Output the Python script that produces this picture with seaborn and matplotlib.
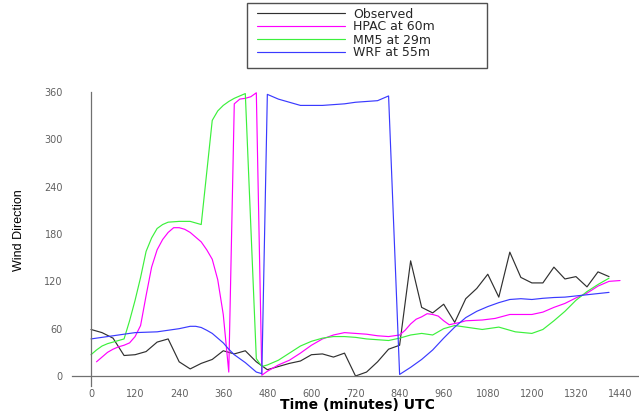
import matplotlib
matplotlib.use("Agg")
import matplotlib.pyplot as plt
from matplotlib.patches import Rectangle
from matplotlib.ticker import MultipleLocator
import pandas as pd
import seaborn as sns

# ---- data -------------------------------------------------------------
obs_time = [0, 30, 60, 90, 120, 150, 180, 210, 240, 270, 300, 330, 360, 390,
            420, 450, 480, 510, 540, 570, 600, 630, 660, 690, 720, 750, 780,
            810, 840, 870, 900, 930, 960, 990, 1020, 1050, 1080, 1110, 1140,
            1170, 1200, 1230, 1260, 1290, 1320, 1350, 1380, 1410]
obs_dir = [59, 55, 48, 26, 27, 31, 43, 47, 18, 9, 16, 21, 32, 28,
           32, 18, 8, 12, 16, 19, 27, 28, 24, 29, 0, 5, 18,
           34, 39, 146, 87, 80, 91, 68, 98, 111, 129, 100, 157,
           125, 118, 118, 138, 123, 126, 113, 132, 126]

hpac_time = [15, 30, 45, 60, 75, 90, 105, 120, 135, 150, 165, 180, 195, 210,
             225, 240, 255, 270, 285, 300, 315, 330, 345, 360, 375, 390, 405,
             420, 435, 450, 465, 480, 495, 510, 525, 540, 570, 600, 630, 660,
             690, 720, 750, 780, 810, 840, 855, 870, 885, 900, 915, 930, 945,
             960, 975, 1005, 1020, 1065, 1100, 1140, 1200, 1230, 1260, 1290,
             1320, 1350, 1380, 1410, 1440]
hpac_dir = [18, 24, 30, 34, 37, 39, 42, 50, 64, 102, 138, 160, 173, 182,
            188, 188, 186, 182, 176, 170, 160, 148, 122, 78, 5, 345, 351,
            352, 354, 359, 1, 6, 10, 14, 17, 20, 29, 39, 47, 52,
            55, 54, 53, 51, 50, 52, 58, 66, 72, 75, 79, 78, 76,
            70, 65, 68, 70, 71, 73, 78, 78, 81, 87, 92,
            99, 105, 114, 120, 121]

mm5_time = [0, 15, 30, 45, 60, 75, 90, 105, 120, 135, 150, 165, 180, 195,
            210, 240, 270, 285, 300, 330, 345, 360, 375, 390, 405, 420, 450,
            465, 480, 510, 540, 570, 600, 630, 660, 690, 720, 750, 780, 810,
            840, 870, 900, 930, 960, 990, 1020, 1065, 1110, 1155, 1200, 1230,
            1260, 1290, 1320, 1350, 1380, 1410]
mm5_dir = [27, 33, 38, 41, 43, 45, 47, 70, 96, 125, 158, 175, 187, 192,
           195, 196, 196, 194, 192, 324, 336, 343, 348, 352, 355, 358, 22,
           12, 14, 20, 29, 38, 44, 48, 50, 50, 49, 47, 46, 45,
           48, 52, 54, 52, 60, 64, 62, 59, 62, 56, 54, 59,
           70, 82, 96, 107, 116, 124]

wrf_time = [0, 30, 60, 90, 120, 150, 180, 210, 240, 270, 285, 300, 315, 330,
            345, 360, 375, 390, 405, 420, 435, 450, 465, 480, 510, 540, 570,
            600, 630, 660, 690, 720, 750, 780, 810, 840, 870, 900, 930, 960,
            990, 1020, 1050, 1080, 1110, 1140, 1170, 1200, 1230, 1260, 1290,
            1320, 1350, 1380, 1410]
wrf_dir = [47, 49, 51, 53, 55, 55.5, 56, 58, 60, 63, 63, 61.5, 58, 54,
           48, 42, 34, 27, 22, 17, 11, 5, 3, 357, 351, 347, 343,
           343, 343, 344, 345, 347, 348, 349, 355, 2, 11, 21, 33, 48,
           62, 74, 82, 88, 93, 97, 98, 97, 98.5, 99.5, 100,
           101.5, 103, 104.5, 106]

series_names = ["Observed", "HPAC at 60m", "MM5 at 29m", "WRF at 55m"]
series_colors = ["#303030", "#ff00ff", "#3cf03c", "#3a3aff"]
x_ticks = [0, 120, 240, 360, 480, 600, 720, 840, 960, 1080, 1200, 1320, 1440]
y_ticks = [0, 60, 120, 180, 240, 300, 360]

frames = []
for name, t, v in zip(series_names,
                      [obs_time, hpac_time, mm5_time, wrf_time],
                      [obs_dir, hpac_dir, mm5_dir, wrf_dir]):
    frames.append(pd.DataFrame({"time": t, "direction": v, "series": name}))
df = pd.concat(frames, ignore_index=True)

# ---- figure -----------------------------------------------------------
sns.set_style("white")
plt.rcParams["font.family"] = ["DejaVu Sans"]

W, H = 639, 413
fig = plt.figure(figsize=(W / 100, H / 100), dpi=100)
ax = fig.add_axes([72 / W, 1 - 386 / H, 567 / W, 294 / H])

sns.lineplot(data=df, x="time", y="direction", hue="series",
             hue_order=series_names,
             palette=dict(zip(series_names, series_colors)),
             estimator=None, sort=False, linewidth=0.85, ax=ax)

ax.set_xlim(-51.7, 1491.6)
ax.set_ylim(-12.66, 360)

for side in ("top", "right"):
    ax.spines[side].set_visible(False)
ax.spines["left"].set_position(("data", 0))
ax.spines["bottom"].set_position(("data", 0))
for side in ("left", "bottom"):
    ax.spines[side].set_color("#707070")
    ax.spines[side].set_linewidth(0.9)

ax.set_xticks(x_ticks)
ax.set_xticklabels([str(t) for t in x_ticks])
ax.xaxis.set_minor_locator(MultipleLocator(60))
ax.set_yticks(y_ticks)
ax.set_yticklabels([str(t) for t in y_ticks])
ax.yaxis.set_minor_locator(MultipleLocator(30))

tick_col = "#707070"
ax.tick_params(axis="x", which="major", direction="out", length=7.2,
               width=0.8, color=tick_col, pad=2.5, labelsize=7,
               labelcolor="#606060")
ax.tick_params(axis="x", which="minor", direction="out", length=4.3,
               width=0.8, color=tick_col)
ax.tick_params(axis="y", which="major", direction="out", length=13.7,
               width=0.8, color=tick_col, pad=6.5, labelsize=7,
               labelcolor="#606060")
ax.tick_params(axis="y", which="minor", direction="out", length=7,
               width=0.8, color=tick_col)

ax.set_xlabel("Time (minutes) UTC", fontsize=10, fontweight="bold",
              color="black", va="center")
ax.xaxis.set_label_coords((357 - 72) / 567, (386 - 405) / 294)
ax.set_ylabel("Wind Direction", fontsize=9, color="black", va="center",
              family=["Liberation Sans"])
ax.yaxis.set_label_coords((19 - 72) / 567, (386 - 230) / 294)

# legend above the plot, inside its own box
handles, labels = ax.get_legend_handles_labels()
ax.get_legend().remove()
fig.legend(handles, labels, loc="upper left",
           bbox_to_anchor=(257 / W, 1 - 7.5 / H), frameon=False,
           fontsize=9, handlelength=7.0, handletextpad=0.7,
           labelspacing=0.0, borderpad=0, borderaxespad=0)
fig.add_artist(Rectangle((247 / W, 1 - 68 / H), 240 / W, 65 / H,
                         transform=fig.transFigure, fill=False,
                         edgecolor="#505050", linewidth=1.0))

fig.savefig("out.png", dpi=100)
